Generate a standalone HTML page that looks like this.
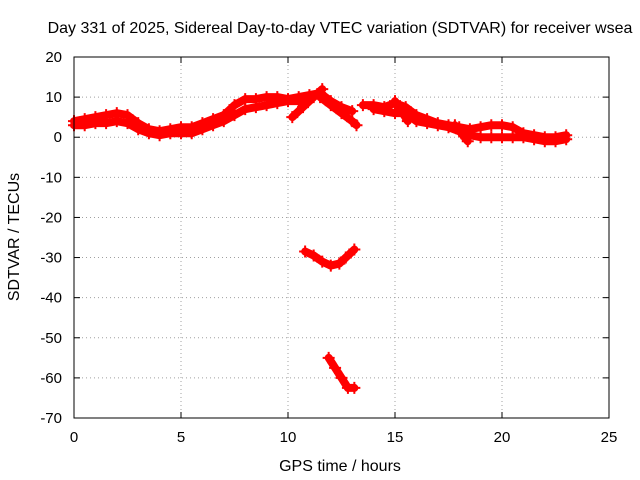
<!DOCTYPE html>
<html><head><meta charset="utf-8"><style>
body{margin:0;background:#fff;}
svg{display:block;font-family:"Liberation Sans",sans-serif;}
</style></head><body>
<svg id="chart" width="640" height="480" viewBox="0 0 640 480">
<text x="340" y="33" font-size="16" text-anchor="middle">Day 331 of 2025, Sidereal Day-to-day VTEC variation (SDTVAR) for receiver wsea</text>
<g id="grid"></g>
<g id="ticks"></g>
<g id="series"></g>
<rect x="74" y="57" width="535" height="361" fill="none" stroke="#000" stroke-width="1"/>
<text transform="translate(19,237) rotate(-90)" font-size="16" text-anchor="middle">SDTVAR / TECUs</text>
<text x="340" y="471" font-size="16" text-anchor="middle">GPS time / hours</text>
</svg>
<script>
const xTicks=[0,5,10,15,20,25];
const yTicks=[20,10,0,-10,-20,-30,-40,-50,-60,-70];
const trackA_t=[0,0.5,1,1.5,2,2.5,3,3.5,4,4.5,5,5.5,6,6.5,7,7.5,8,8.5,9,9.5,10,10.5,11,11.5,12,12.5,13];
const trackA_v=[4,4.5,5,5.5,6,5.5,3.5,2,1.5,2,2.5,2.5,3.5,4.5,5.5,8,9.5,9.5,10,10,9.5,10,10.5,11,9,7.5,6.5];
const trackB_t=[0,0.5,1,1.5,2,2.5,3,3.5,4,4.5,5,5.5,6,6.5,7,7.5,8,8.5,9,9.5,10,10.5,11];
const trackB_v=[3,3,3.5,3.5,4,3.5,2,1,0.5,1,1,1,2,3,4,5.5,7,7.5,8,8.5,9,9,9.5];
const trackC_t=[13.5,14,14.5,15,15.5,16,16.5,17,17.5,18,18.5,19,19.5,20,20.5,21,21.5,22,22.5,23];
const trackC_v=[8,8,7.5,8.5,7.5,5.5,4.5,3.5,3,2.5,2,2.5,3,3,2.5,1,0.5,0,0,0.5];
const trackD_t=[14,14.5,15,15.5,16,16.5,17,17.5,18,18.5,19,19.5,20,20.5,21,21.5,22,22.5,23];
const trackD_v=[7,6.5,6,6,4,3.5,3,2.5,1.5,0.5,0,0,0,0,0,-0.5,-1,-1,-0.5];
const branch1_t=[10.2,10.7,11.2,11.6];
const branch1_v=[5,7.5,10,12];
const branch2_t=[11.5,12,12.5,13,13.2];
const branch2_v=[10,8,6,4,3];
const branch3_t=[15,15.3,15.6];
const branch3_v=[9,6.5,4];
const branch4_t=[17.8,18.1,18.4];
const branch4_v=[3,1,-1];
const arc_t=[10.8,11.2,11.6,12,12.4,12.7,13.1];
const arc_v=[-28.5,-29.5,-31,-32,-31.5,-30,-28];
const dip_t=[11.9,12.2,12.5,12.8,13.1];
const dip_v=[-55,-57.5,-60,-62.5,-62.5];
const tracks=[[trackA_t,trackA_v],[trackB_t,trackB_v],[trackC_t,trackC_v],[trackD_t,trackD_v],[branch1_t,branch1_v],[branch2_t,branch2_v],[branch3_t,branch3_v],[branch4_t,branch4_v],[arc_t,arc_v],[dip_t,dip_v]];
const X0=74,X1=609,Y0=57,Y1=418;
function sx(t){return X0+(t-0)/(25-0)*(X1-X0);}
function sy(v){return Y0+(20-v)/(20-(-70))*(Y1-Y0);}
const NS="http://www.w3.org/2000/svg";
function mk(tag,attrs,parent){const e=document.createElementNS(NS,tag);for(const k in attrs)e.setAttribute(k,attrs[k]);parent.appendChild(e);return e;}
const grid=document.getElementById('grid'),ticks=document.getElementById('ticks'),series=document.getElementById('series');
xTicks.forEach(t=>{
 const x=sx(t);
 if(t>0&&t<25){const g=mk('line',{x1:x,x2:x,y1:Y0,y2:Y1,stroke:'#a0a0a0','stroke-dasharray':'1,3'},grid);
 
 }
 const l=mk('text',{x:x,y:Y1+24,'font-size':15,'text-anchor':'middle'},ticks);l.textContent=t;
 
 
 mk('line',{x1:x,x2:x,y1:Y1,y2:Y1-6,stroke:'#000'},ticks);
 mk('line',{x1:x,x2:x,y1:Y0,y2:Y0+6,stroke:'#000'},ticks);
});
yTicks.forEach(v=>{
 const y=sy(v);
 if(v<20&&v>-70){const g=mk('line',{x1:X0,x2:X1,y1:y,y2:y,stroke:'#a0a0a0','stroke-dasharray':'1,3'},grid);
 
 }
 const l=mk('text',{x:X0-12,y:y+5,'font-size':15,'text-anchor':'end'},ticks);l.textContent=v;
 
 
 mk('line',{x1:X0,x2:X0+6,y1:y,y2:y,stroke:'#000'},ticks);
 mk('line',{x1:X1,x2:X1-6,y1:y,y2:y,stroke:'#000'},ticks);
});
tracks.forEach(([ts,vs])=>{
 const pts=ts.map((t,i)=>sx(t)+','+sy(vs[i])).join(' ');
 const pl=mk('polyline',{points:pts,fill:'none',stroke:'#f00','stroke-width':8,'stroke-linejoin':'round','stroke-linecap':'round'},series);
 
 
 ts.forEach((t,i)=>{
  const x=sx(t),y=sy(vs[i]);
  const p=mk('path',{d:`M${x-6},${y}H${x+6}M${x},${y-6}V${y+6}`,stroke:'#f00','stroke-width':2},series);
  
  
 });
});
</script>
</body></html>
